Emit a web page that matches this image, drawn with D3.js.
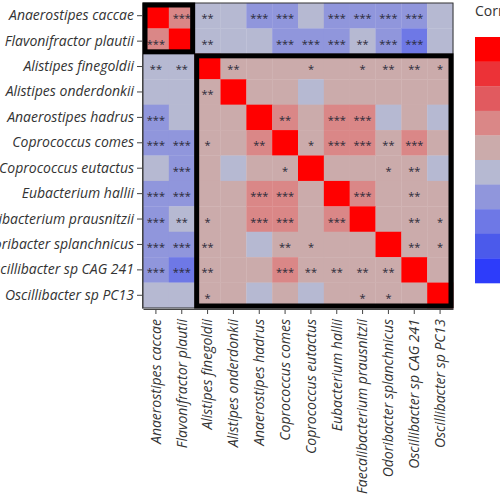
<!DOCTYPE html>
<html>
<head>
<meta charset="utf-8">
<script src="https://cdn.jsdelivr.net/npm/d3@7"></script>
<style>
  html, body { margin: 0; padding: 0; background: #fff; overflow: hidden; }
  svg { display: block; }
  .axis text { font-family: "Open Sans", sans-serif; font-style: italic; font-size: 14px; fill: #333; }
  .axis line, .axis path { stroke: #444; }
</style>
</head>
<body>
<svg id="chart" width="500" height="500"></svg>
<script>
// ---------------- data ----------------
const categories = [
  "Anaerostipes caccae", "Flavonifractor plautii", "Alistipes finegoldii",
  "Alistipes onderdonkii", "Anaerostipes hadrus", "Coprococcus comes",
  "Coprococcus eutactus", "Eubacterium hallii", "Faecalibacterium prausnitzii",
  "Odoribacter splanchnicus", "Oscillibacter sp CAG 241", "Oscillibacter sp PC13"
];

// correlation values (row = y category, column = x category)
const corrValues = [
  [ 1.00,  0.33, -0.12, -0.06, -0.28, -0.30, -0.07, -0.31, -0.29, -0.30, -0.27, -0.05],
  [ 0.33,  1.00, -0.11, -0.08, -0.09, -0.27, -0.25, -0.29, -0.14, -0.28, -0.42, -0.06],
  [-0.12, -0.11,  1.00,  0.15,  0.05,  0.09,  0.11,  0.06,  0.10,  0.14,  0.15,  0.11],
  [-0.06, -0.08,  0.15,  1.00,  0.04,  0.05, -0.06,  0.03,  0.05,  0.06,  0.07,  0.04],
  [-0.28, -0.09,  0.05,  0.04,  1.00,  0.25,  0.08,  0.32,  0.30, -0.05,  0.07, -0.04],
  [-0.30, -0.27,  0.09,  0.05,  0.25,  1.00,  0.11,  0.31,  0.30,  0.15,  0.26,  0.06],
  [-0.07, -0.25,  0.11, -0.06,  0.08,  0.11,  1.00,  0.07,  0.06,  0.12,  0.15, -0.04],
  [-0.31, -0.29,  0.06,  0.03,  0.32,  0.31,  0.07,  1.00,  0.29,  0.08,  0.15,  0.06],
  [-0.29, -0.14,  0.10,  0.05,  0.30,  0.30,  0.06,  0.29,  1.00,  0.09,  0.16,  0.12],
  [-0.30, -0.28,  0.14,  0.06, -0.05,  0.15,  0.12,  0.08,  0.09,  1.00,  0.16,  0.12],
  [-0.27, -0.42,  0.15,  0.07,  0.07,  0.26,  0.15,  0.15,  0.16,  0.16,  1.00,  0.08],
  [-0.05, -0.06,  0.11,  0.04, -0.04,  0.06, -0.04,  0.06,  0.12,  0.12,  0.08,  1.00]
];

// significance labels
const stars = [
  ["",    "***", "**", "",   "***", "***", "",   "***", "***", "***", "***", ""],
  ["***", "",    "**", "",   "",    "***", "***","***", "**",  "***", "***", ""],
  ["**",  "**",  "",   "**", "",    "",    "*",  "",    "*",   "**",  "**",  "*"],
  ["",    "",    "**", "",   "",    "",    "",   "",    "",    "",    "",    ""],
  ["***", "",    "",   "",   "",    "**",  "",   "***", "***", "",    "",    ""],
  ["***", "***", "*",  "",   "**",  "",    "*",  "***", "***", "**",  "***", ""],
  ["",    "***", "",   "",   "",    "*",   "",   "",    "",    "*",   "**",  ""],
  ["***", "***", "",   "",   "***", "***", "",   "",    "***", "",    "**",  ""],
  ["***", "**",  "*",  "",   "***", "***", "",   "***", "",    "",    "**",  "*"],
  ["***", "***", "**", "",   "",    "**",  "*",  "",    "",    "",    "**",  "*"],
  ["***", "***", "**", "",   "",    "***", "**", "**",  "**",  "**",  "",    ""],
  ["",    "",    "*",  "",   "",    "",    "",   "",    "*",   "*",   "",    ""]
];

// cluster blocks (first and last category index of each block)
const clusterStarts = [0, 2];
const clusterEnds = [1, 11];

const legendTitle = "Correlation";

// ---------------- styles ----------------
const palette = ["#2d3cfa", "#4b5aeb", "#6e78e6", "#9096dc", "#b6b9d2",
                 "#cbabab", "#da8787", "#e15a5f", "#ec3237", "#ff0000"];

// ---------------- drawing ----------------
const svg = d3.select("#chart");

const x = d3.scaleBand().domain(categories).range([143, 453]).padding(0);
const y = d3.scaleBand().domain(categories).range([3, 308]).padding(0);
const color = d3.scaleQuantize().domain([-1, 1]).range(palette);

const cells = [];
corrValues.forEach((row, i) => row.forEach((v, j) => {
  cells.push({ row: categories[i], col: categories[j], value: v, label: stars[i][j] });
}));

svg.append("g").selectAll("rect")
  .data(cells).join("rect")
  .attr("x", d => x(d.col))
  .attr("y", d => y(d.row))
  .attr("width", x.bandwidth() + 0.3)
  .attr("height", y.bandwidth() + 0.3)
  .attr("fill", d => color(d.value));

svg.append("g").selectAll("text")
  .data(cells.filter(d => d.label)).join("text")
  .attr("x", d => x(d.col) + x.bandwidth() / 2)
  .attr("y", d => y(d.row) + y.bandwidth() / 2 + 6.5)
  .attr("text-anchor", "middle")
  .style("font-family", "'Open Sans', sans-serif")
  .style("font-size", "11px")
  .style("fill", "#2a2a38")
  .text(d => d.label);

// thin outer frame
svg.append("rect")
  .attr("x", x.range()[0]).attr("y", y.range()[0])
  .attr("width", x.range()[1] - x.range()[0])
  .attr("height", y.range()[1] - y.range()[0])
  .attr("fill", "none").attr("stroke", "#333").attr("stroke-width", 1);

// thick cluster boxes
const sw = 5;
clusterStarts.forEach((s, k) => {
  const e = clusterEnds[k];
  const x0 = x(categories[s]), x1 = x(categories[e]) + x.bandwidth();
  const y0 = y(categories[s]), y1 = y(categories[e]) + y.bandwidth();
  svg.append("rect")
    .attr("x", x0 + sw / 2 - 0.5).attr("y", y0 + sw / 2 - 0.5)
    .attr("width", x1 - x0 - sw + 1).attr("height", y1 - y0 - sw + 1)
    .attr("fill", "none").attr("stroke", "#000").attr("stroke-width", sw);
});

// axes
svg.append("g").attr("class", "axis")
  .attr("transform", "translate(142,0)")
  .call(d3.axisLeft(y).tickSize(5).tickSizeOuter(0).tickPadding(3));

const xAxis = svg.append("g").attr("class", "axis")
  .attr("transform", "translate(0,309)")
  .call(d3.axisBottom(x).tickSize(5).tickSizeOuter(0).tickPadding(3));
xAxis.selectAll("text")
  .attr("transform", "rotate(-90)")
  .attr("text-anchor", "end")
  .attr("x", -10)
  .attr("y", 0)
  .attr("dy", "0.35em");

// legend
const legY = d3.scaleBand().domain(d3.range(palette.length)).range([37, 283]);
const legendColors = palette.slice().reverse();
svg.append("g").selectAll("rect")
  .data(legendColors).join("rect")
  .attr("x", 475)
  .attr("y", (d, i) => legY(i))
  .attr("width", 40)
  .attr("height", legY.bandwidth() + 0.3)
  .attr("fill", d => d);

svg.append("text")
  .attr("x", 475).attr("y", 16)
  .style("font-family", "'Open Sans', sans-serif")
  .style("font-size", "14px")
  .style("fill", "#333")
  .text(legendTitle);
</script>
</body>
</html>
